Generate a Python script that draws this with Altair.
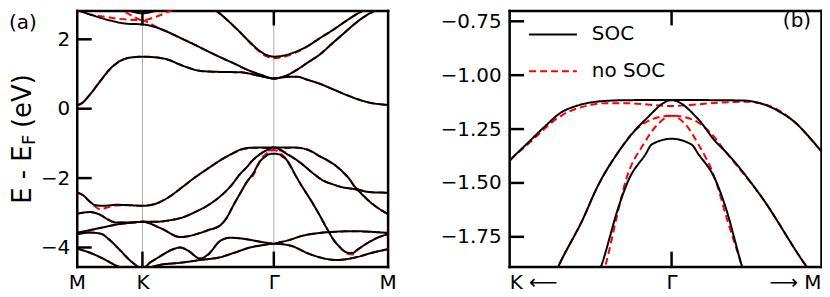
import altair as alt
import pandas as pd

# ---------------- axis / label data ----------------
k_ticks = [0.0, 0.5, 1.5, 2.366]            # M, K, Gamma, M along the path
k_tick_labels = ["M", "K", "Γ", "M"]
k_lines = [0.5, 1.5]                        # vertical guide lines at K and Gamma
e_range_a = [-4.55, 2.83]
e_range_b = [-1.888, -0.70]
e_ticks_a = [2, 0, -2, -4]
e_ticks_b = [-0.75, -1.0, -1.25, -1.5, -1.75]
zoom_k_ticks = [1.1304, 1.5, 1.84]
zoom_k_labels = ["K ⟵", "Γ", "⟶ M"]
calc_names = ["SOC", "no SOC"]
calc_colors = ["black", "red"]
panel_tags = ["(a)", "(b)"]
ytitle_parts = ["E - E", "F", "(eV)"]

# ---------------- SOC bands ----------------
soc_cb4_k = [0.3, 0.4, 0.5, 0.6, 0.7]
soc_cb4_e = [2.95, 2.82, 2.75, 2.82, 2.95]

soc_cb3_k = [0.98, 1.04, 1.09, 1.17, 1.244, 1.32, 1.395, 1.45, 1.5, 1.56, 1.644, 1.75, 1.849, 1.95, 2.05, 2.098, 2.2, 2.25]
soc_cb3_e = [3.0, 2.87, 2.74, 2.47, 2.2, 1.91, 1.66, 1.54, 1.5, 1.52, 1.61, 1.79, 2.03, 2.27, 2.53, 2.65, 2.87, 2.97]

soc_cb2_k = [0, 0.106, 0.258, 0.38, 0.5, 0.6, 0.7, 0.8, 0.9, 1.0, 1.1, 1.2, 1.3, 1.4, 1.5, 1.55, 1.6, 1.644, 1.7, 1.75, 1.849, 1.95, 2.05, 2.098, 2.2, 2.28, 2.366]
soc_cb2_e = [2.85, 2.71, 2.54, 2.45, 2.43, 2.35, 2.2, 2.02, 1.84, 1.65, 1.47, 1.3, 1.12, 0.98, 0.87, 0.9, 0.96, 1.05, 1.18, 1.31, 1.56, 1.9, 2.23, 2.39, 2.68, 2.84, 2.95]

soc_cb1_k = [0, 0.04, 0.09, 0.182, 0.25, 0.311, 0.4, 0.5, 0.6, 0.69, 0.78, 0.842, 0.94, 1.09, 1.244, 1.33, 1.395, 1.45, 1.5, 1.56, 1.62, 1.68, 1.75, 1.85, 1.95, 2.05, 2.15, 2.25, 2.366]
soc_cb1_e = [0.1, 0.16, 0.36, 0.81, 1.13, 1.33, 1.47, 1.5, 1.48, 1.42, 1.28, 1.19, 1.09, 1.06, 1.05, 1.0, 0.94, 0.9, 0.87, 0.9, 0.92, 0.92, 0.84, 0.72, 0.56, 0.4, 0.26, 0.16, 0.11]

soc_vb1_k = [0, 0.05, 0.1, 0.14, 0.2, 0.3, 0.4, 0.5, 0.6, 0.7, 0.8, 0.9, 1.0, 1.1, 1.13, 1.176, 1.21, 1.251, 1.28, 1.312, 1.345, 1.4, 1.5, 1.6, 1.668, 1.695, 1.72, 1.75, 1.781, 1.81, 1.84, 1.9, 1.98, 2.04, 2.076, 2.11, 2.13, 2.18, 2.25, 2.366]
soc_vb1_e = [-2.41, -2.5, -2.68, -2.78, -2.8, -2.77, -2.78, -2.8, -2.74, -2.55, -2.27, -1.98, -1.72, -1.47, -1.40, -1.308, -1.241, -1.17, -1.145, -1.128, -1.12, -1.116, -1.115, -1.116, -1.118, -1.127, -1.143, -1.175, -1.219, -1.28, -1.35, -1.47, -1.67, -1.88, -2.03, -2.22, -2.3, -2.37, -2.41, -2.42]

soc_vb2_k = [0, 0.1, 0.18, 0.24, 0.3, 0.4, 0.5, 0.6, 0.7, 0.8, 0.9, 1.0, 1.1, 1.17, 1.244, 1.3, 1.328, 1.38, 1.396, 1.441, 1.5, 1.561, 1.6, 1.622, 1.704, 1.804, 1.871, 1.95, 2.03, 2.1, 2.13, 2.18, 2.227, 2.3, 2.366]
soc_vb2_e = [-3.03, -2.98, -3.06, -3.2, -3.28, -3.28, -3.26, -3.26, -3.22, -3.14, -2.98, -2.78, -2.5, -2.24, -1.88, -1.66, -1.531, -1.353, -1.308, -1.205, -1.116, -1.205, -1.308, -1.353, -1.563, -1.879, -2.06, -2.18, -2.27, -2.31, -2.33, -2.5, -2.67, -2.88, -3.03]

soc_vb3_k = [0, 0.1, 0.2, 0.3, 0.4, 0.5, 0.637, 0.789, 0.94, 1.0, 1.092, 1.14, 1.19, 1.25, 1.3, 1.341, 1.38, 1.402, 1.441, 1.455, 1.5, 1.545, 1.561, 1.6, 1.622, 1.659, 1.7, 1.75, 1.795, 1.85, 1.902, 1.95, 2.0, 2.061, 2.1, 2.129, 2.18, 2.227, 2.3, 2.366]
soc_vb3_e = [-3.58, -3.5, -3.42, -3.34, -3.29, -3.26, -3.44, -3.7, -3.58, -3.5, -3.36, -3.15, -2.8, -2.4, -2.08, -1.879, -1.607, -1.487, -1.366, -1.321, -1.295, -1.321, -1.366, -1.487, -1.607, -1.879, -2.15, -2.45, -2.72, -3.08, -3.44, -3.75, -3.98, -4.15, -4.16, -4.08, -3.95, -3.84, -3.7, -3.62]

soc_vb4_k = [0, 0.1, 0.18, 0.25, 0.33, 0.42, 0.5, 0.56, 0.637, 0.72, 0.789, 0.85, 0.94, 1.0, 1.092, 1.168, 1.25, 1.319, 1.42, 1.5, 1.547, 1.621, 1.7, 1.849, 2.0, 2.098, 2.25, 2.366]
soc_vb4_e = [-3.62, -3.57, -3.6, -3.78, -4.08, -4.42, -4.6, -4.43, -4.25, -4.07, -4.0, -4.1, -4.32, -4.2, -3.81, -3.72, -3.74, -3.78, -3.85, -3.89, -3.85, -3.78, -3.68, -3.58, -3.54, -3.53, -3.55, -3.58]

soc_vb5_k = [0, 0.1, 0.2, 0.3, 0.4, 0.5, 0.56, 0.637, 0.789, 0.94, 1.092, 1.2, 1.319, 1.42, 1.5, 1.621, 1.773, 1.979, 2.128, 2.25, 2.366]
soc_vb5_e = [-4.03, -4.15, -4.32, -4.52, -4.65, -4.72, -4.58, -4.5, -4.44, -4.36, -4.28, -4.15, -4.0, -3.93, -3.89, -3.94, -4.19, -4.36, -4.28, -4.15, -4.05]

# ---------------- no-SOC bands ----------------
nosoc_cb4_k = [0.3, 0.42, 0.5, 0.58, 0.7, 0.8]
nosoc_cb4_e = [2.95, 2.68, 2.55, 2.62, 2.8, 2.95]

nosoc_cb3_k = [0.98, 1.04, 1.09, 1.17, 1.244, 1.32, 1.395, 1.45, 1.5, 1.56, 1.644, 1.75, 1.849, 1.95, 2.05, 2.098, 2.2, 2.25]
nosoc_cb3_e = [3.0, 2.87, 2.74, 2.47, 2.2, 1.9, 1.63, 1.5, 1.455, 1.48, 1.58, 1.78, 2.03, 2.27, 2.53, 2.65, 2.87, 2.97]

nosoc_cb2_k = [0, 0.106, 0.2, 0.3, 0.42, 0.5, 0.56, 0.62, 0.7, 0.8, 0.9, 1.0, 1.1, 1.2, 1.3, 1.4, 1.5, 1.55, 1.6, 1.644, 1.7, 1.75, 1.849, 1.95, 2.05, 2.098, 2.2, 2.28, 2.366]
nosoc_cb2_e = [2.85, 2.71, 2.66, 2.6, 2.56, 2.55, 2.45, 2.33, 2.2, 2.02, 1.84, 1.65, 1.47, 1.3, 1.12, 0.98, 0.87, 0.9, 0.96, 1.05, 1.18, 1.31, 1.56, 1.9, 2.23, 2.39, 2.68, 2.84, 2.95]

nosoc_cb1_k = soc_cb1_k
nosoc_cb1_e = soc_cb1_e

nosoc_vb1_k = [0, 0.05, 0.1, 0.14, 0.18, 0.22, 0.3, 0.4, 0.5, 0.6, 0.7, 0.8, 0.9, 1.0, 1.1, 1.13, 1.176, 1.251, 1.312, 1.35, 1.402, 1.45, 1.5, 1.55, 1.591, 1.668, 1.72, 1.781, 1.84, 1.9, 1.98, 2.04, 2.076, 2.11, 2.13, 2.18, 2.25, 2.366]
nosoc_vb1_e = [-2.41, -2.5, -2.68, -2.82, -2.9, -2.86, -2.79, -2.78, -2.8, -2.74, -2.55, -2.27, -1.98, -1.72, -1.47, -1.40, -1.315, -1.185, -1.14, -1.13, -1.13, -1.137, -1.143, -1.137, -1.13, -1.123, -1.14, -1.219, -1.35, -1.47, -1.67, -1.88, -2.03, -2.22, -2.3, -2.37, -2.41, -2.42]

nosoc_vb2_k = [0, 0.1, 0.18, 0.24, 0.3, 0.4, 0.5, 0.6, 0.7, 0.8, 0.9, 1.0, 1.1, 1.17, 1.244, 1.3, 1.328, 1.38, 1.41, 1.441, 1.47, 1.5, 1.53, 1.561, 1.59, 1.622, 1.704, 1.804, 1.871, 1.95, 2.03, 2.1, 2.13, 2.18, 2.227, 2.3, 2.366]
nosoc_vb2_e = [-3.03, -2.98, -3.06, -3.2, -3.28, -3.28, -3.26, -3.26, -3.22, -3.14, -2.98, -2.78, -2.5, -2.24, -1.88, -1.66, -1.531, -1.353, -1.27, -1.219, -1.195, -1.188, -1.195, -1.22, -1.27, -1.353, -1.563, -1.879, -2.06, -2.18, -2.27, -2.31, -2.33, -2.5, -2.67, -2.88, -3.03]

nosoc_vb3_k = [0, 0.1, 0.2, 0.3, 0.4, 0.5, 0.637, 0.789, 0.94, 1.0, 1.092, 1.14, 1.19, 1.25, 1.3, 1.35, 1.375, 1.396, 1.436, 1.47, 1.5, 1.53, 1.561, 1.6, 1.625, 1.659, 1.7, 1.75, 1.795, 1.85, 1.902, 1.95, 2.0, 2.061, 2.1, 2.129, 2.18, 2.227, 2.3, 2.366]
nosoc_vb3_e = [-3.58, -3.5, -3.42, -3.34, -3.29, -3.26, -3.44, -3.7, -3.58, -3.5, -3.36, -3.15, -2.8, -2.4, -2.08, -1.879, -1.66, -1.487, -1.321, -1.225, -1.188, -1.225, -1.321, -1.487, -1.66, -1.879, -2.15, -2.45, -2.72, -3.08, -3.44, -3.75, -3.98, -4.18, -4.2, -4.1, -3.95, -3.84, -3.7, -3.62]

nosoc_vb4_k = soc_vb4_k
nosoc_vb4_e = soc_vb4_e
nosoc_vb5_k = soc_vb5_k
nosoc_vb5_e = soc_vb5_e

soc_bands = {
    "cb4": (soc_cb4_k, soc_cb4_e), "cb3": (soc_cb3_k, soc_cb3_e),
    "cb2": (soc_cb2_k, soc_cb2_e), "cb1": (soc_cb1_k, soc_cb1_e),
    "vb1": (soc_vb1_k, soc_vb1_e), "vb2": (soc_vb2_k, soc_vb2_e),
    "vb3": (soc_vb3_k, soc_vb3_e), "vb4": (soc_vb4_k, soc_vb4_e),
    "vb5": (soc_vb5_k, soc_vb5_e),
}
nosoc_bands = {
    "cb4": (nosoc_cb4_k, nosoc_cb4_e), "cb3": (nosoc_cb3_k, nosoc_cb3_e),
    "cb2": (nosoc_cb2_k, nosoc_cb2_e), "cb1": (nosoc_cb1_k, nosoc_cb1_e),
    "vb1": (nosoc_vb1_k, nosoc_vb1_e), "vb2": (nosoc_vb2_k, nosoc_vb2_e),
    "vb3": (nosoc_vb3_k, nosoc_vb3_e), "vb4": (nosoc_vb4_k, nosoc_vb4_e),
    "vb5": (nosoc_vb5_k, nosoc_vb5_e),
}

rows = []
for calc, bands in ((calc_names[0], soc_bands), (calc_names[1], nosoc_bands)):
    for name, (ks, es) in bands.items():
        for k, e in zip(ks, es):
            rows.append({"band": calc + "_" + name, "calc": calc, "k": k, "E": e})
df = pd.DataFrame(rows)
df_soc = df[df["calc"] == calc_names[0]]
df_nosoc = df[df["calc"] == calc_names[1]]


def label_expr(vals, labels):
    parts = [f"abs(datum.value - ({v})) < 0.002 ? '{lab}'" for v, lab in zip(vals, labels)]
    return " : ".join(parts) + " : ''"


FONT = "DejaVu Sans"
W1, W2, H = 312, 313, 257
TICK = 15
SPINE = 2.5

color_scale = alt.Scale(domain=calc_names, range=calc_colors)
dash_scale = alt.Scale(domain=calc_names, range=[[1, 0], [7, 4]])

xedges_a = [k_ticks[0], k_ticks[-1]]
xedges_b = [zoom_k_ticks[0], zoom_k_ticks[-1]]
xs_a = alt.Scale(domain=xedges_a, nice=False, zero=False)
ys_a = alt.Scale(domain=e_range_a, nice=False, zero=False)
xs_b = alt.Scale(domain=xedges_b, nice=False, zero=False)
ys_b = alt.Scale(domain=e_range_b, nice=False, zero=False)

spine_axis = dict(domain=True, domainColor="black", domainWidth=SPINE, domainCap="square",
                  ticks=False, grid=False, title=None)
label_axis = dict(labelFontSize=20, labelFont=FONT, labelColor="black", **spine_axis)
xaxis_a = alt.Axis(values=k_ticks, labelExpr=label_expr(k_ticks, k_tick_labels), labelPadding=6,
                   labelFlush=False, orient="bottom", **label_axis)
yaxis_a = alt.Axis(values=e_ticks_a, format="d", labelPadding=7, orient="left", **label_axis)
xaxis_b = alt.Axis(values=zoom_k_ticks, labelExpr=label_expr(zoom_k_ticks, zoom_k_labels), labelPadding=6,
                   labelFlush=True, labelFlushOffset=0, orient="bottom", **label_axis)
yaxis_b = alt.Axis(values=e_ticks_b, format=".2f", labelPadding=8, orient="left", **label_axis)
top_axis = alt.Axis(orient="top", labels=False, **spine_axis)
right_axis = alt.Axis(orient="right", labels=False, **spine_axis)


def panel(width, xscale, yscale, xaxis, yaxis, xedges, xtick_vals, ytick_vals, legend, before, after):
    X = alt.X("k:Q", scale=xscale, axis=xaxis)
    Y = alt.Y("E:Q", scale=yscale, axis=yaxis)
    Xn = alt.X("k:Q", scale=xscale, axis=None)
    Yn = alt.Y("E:Q", scale=yscale, axis=None)
    Xt = alt.X("k:Q", scale=xscale, axis=top_axis)
    Yr = alt.Y("E:Q", scale=yscale, axis=right_axis)

    def enc(x, y):
        return dict(
            x=x, y=y,
            color=alt.Color("calc:N", scale=color_scale, legend=legend),
            strokeDash=alt.StrokeDash("calc:N", scale=dash_scale, legend=legend),
            detail="band:N",
        )

    red = alt.Chart(df_nosoc).mark_line(strokeWidth=2, clip=True, interpolate="monotone").encode(**enc(Xn, Yn))
    black = alt.Chart(df_soc).mark_line(strokeWidth=2, clip=True, interpolate="monotone").encode(**enc(X, Y))
    # an invisible copy of the SOC bands that carries the top and right frame lines
    frame = alt.Chart(df_soc).mark_line(strokeWidth=2, opacity=0, clip=True).encode(
        x=Xt, y=Yr, detail="band:N")
    yt = alt.Chart(pd.DataFrame({"E": ytick_vals})).mark_rule(color="black", strokeWidth=2.5).encode(
        y=Yn, x=alt.value(0), x2=alt.value(TICK))
    xt_b = alt.Chart(pd.DataFrame({"k": xtick_vals})).mark_rule(color="black", strokeWidth=2.5).encode(
        x=Xn, y=alt.value(H - TICK), y2=alt.value(H))
    xt_t = alt.Chart(pd.DataFrame({"k": xtick_vals})).mark_rule(color="black", strokeWidth=2.5).encode(
        x=Xn, y=alt.value(0), y2=alt.value(TICK))
    layers = [b(Xn) for b in before] + [red, black, frame, yt, xt_b, xt_t] + after
    return alt.layer(*layers).resolve_axis(x="independent", y="independent").properties(
        width=width, height=H)


def vlines(xenc):
    return alt.Chart(pd.DataFrame({"k": k_lines})).mark_rule(color="#b0b0b0", strokeWidth=1).encode(x=xenc)


tag_a = alt.Chart(pd.DataFrame({"t": [panel_tags[0]]})).mark_text(
    font=FONT, fontSize=20, align="left", baseline="middle", color="black").encode(
    text="t:N", x=alt.value(-68), y=alt.value(13))
tag_b = alt.Chart(pd.DataFrame({"t": [panel_tags[1]]})).mark_text(
    font=FONT, fontSize=20, align="right", baseline="middle", color="black").encode(
    text="t:N", x=alt.value(W2 - 10), y=alt.value(11))

yt1 = alt.Chart(pd.DataFrame({"t": [ytitle_parts[0]]})).mark_text(
    font=FONT, fontSize=26, align="left", baseline="alphabetic", angle=270, color="black").encode(
    text="t:N", x=alt.value(-46), y=alt.value(194))
yt2 = alt.Chart(pd.DataFrame({"t": [ytitle_parts[1]]})).mark_text(
    font=FONT, fontSize=18, align="left", baseline="alphabetic", angle=270, color="black").encode(
    text="t:N", x=alt.value(-42), y=alt.value(135))
yt3 = alt.Chart(pd.DataFrame({"t": [ytitle_parts[2]]})).mark_text(
    font=FONT, fontSize=26, align="left", baseline="alphabetic", angle=270, color="black").encode(
    text="t:N", x=alt.value(-46), y=alt.value(118))

legend_b = alt.Legend(title=None, orient="none", legendX=19, legendY=-1, symbolType="stroke",
                      symbolSize=2304, symbolStrokeWidth=2, labelFontSize=20, labelFont=FONT,
                      labelColor="black", labelOffset=14, rowPadding=2, padding=0)

left = panel(W1, xs_a, ys_a, xaxis_a, yaxis_a, xedges_a,
             k_lines, e_ticks_a, None, [vlines], [tag_a, yt1, yt2, yt3])
right = panel(W2, xs_b, ys_b, xaxis_b, yaxis_b, xedges_b,
              [1.5], e_ticks_b, legend_b, [], [tag_b])

chart = alt.hconcat(left, right, spacing=122, bounds="flush").resolve_scale(
    color="independent", strokeDash="independent").resolve_legend(
    color="independent", strokeDash="independent").properties(
    padding={"left": 0, "top": 0, "right": 0, "bottom": 0}).configure(font=FONT)

chart.save("out.html", embed_options={"renderer": "svg", "actions": False})
